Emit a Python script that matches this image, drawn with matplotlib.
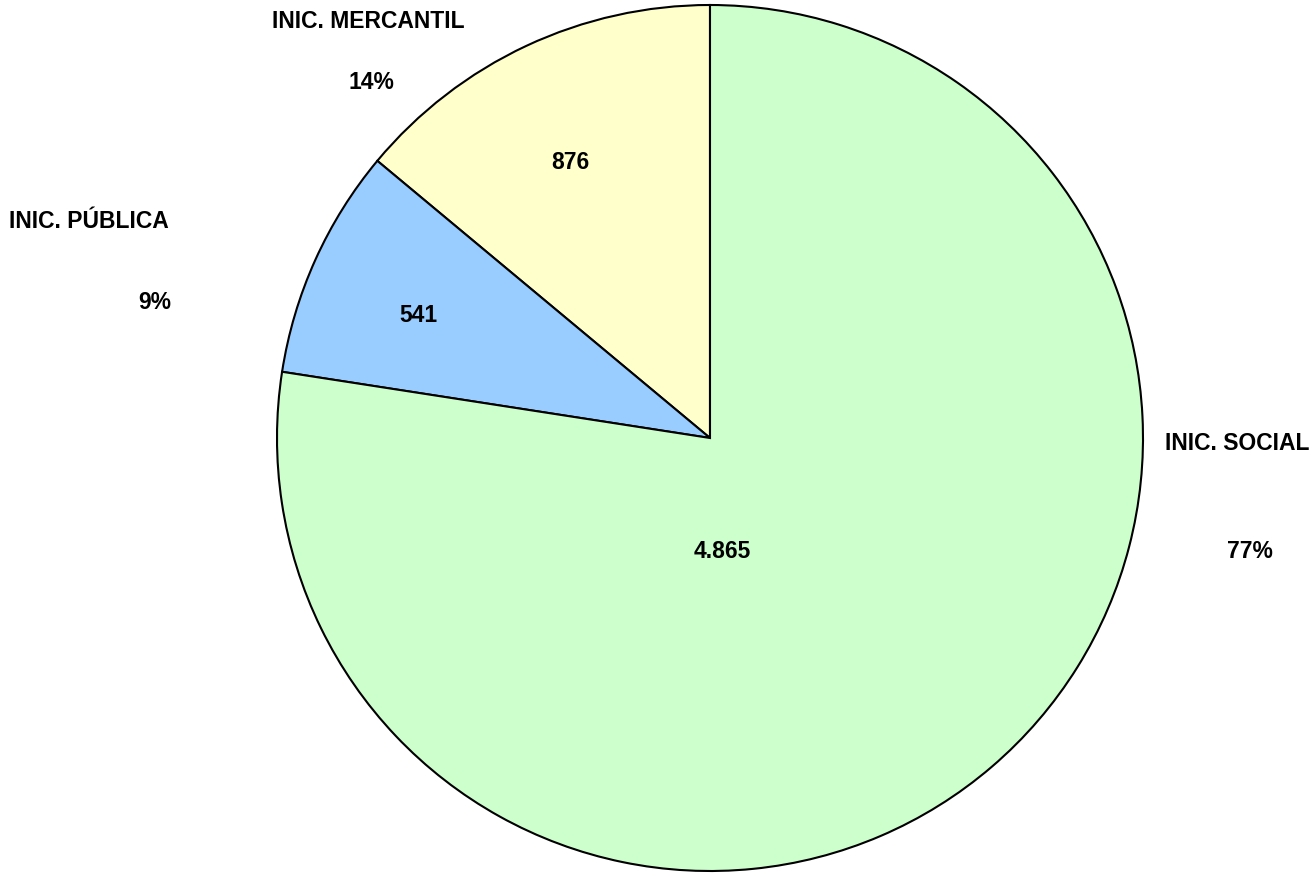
import matplotlib.pyplot as plt

plt.rcParams['font.family'] = ['Liberation Sans', 'DejaVu Sans']

# data
categories = ['INIC. MERCANTIL', 'INIC. PÚBLICA', 'INIC. SOCIAL']
values = [876, 541, 4865]
colors = ['#FFFFCC', '#99CCFF', '#CCFFCC']

# label placement (pie radius units)
name_pos = [(-0.79, 0.961), (-1.434, 0.499), (1.217, -0.012)]
pct_pos = [(-0.783, 0.822), (-1.282, 0.314), (1.247, -0.261)]
val_pos = [(-0.323, 0.637), (-0.674, 0.284), (0.028, -0.261)]

fig = plt.figure(figsize=(13.16, 8.74), dpi=100)
ax = fig.add_axes([277 / 1316, 3 / 874, 866 / 1316, 866 / 874])

ax.pie(values, colors=colors, startangle=90, counterclock=True, radius=1,
       wedgeprops={'edgecolor': 'black', 'linewidth': 1.5})

total = sum(values)
fs = 16.5
for i, v in enumerate(values):
    pct = round(v / total * 100)
    ax.text(*name_pos[i], categories[i], ha='center', va='center',
            fontsize=fs, fontweight='bold')
    ax.text(*pct_pos[i], f'{pct}%', ha='center', va='center',
            fontsize=fs, fontweight='bold')
    ax.text(*val_pos[i], f'{v:,}'.replace(',', '.'), ha='center', va='center',
            fontsize=fs, fontweight='bold')

ax.set_xlim(-1, 1)
ax.set_ylim(-1, 1)
ax.set_aspect('equal')
ax.axis('off')

fig.savefig('out.png', dpi=100)
